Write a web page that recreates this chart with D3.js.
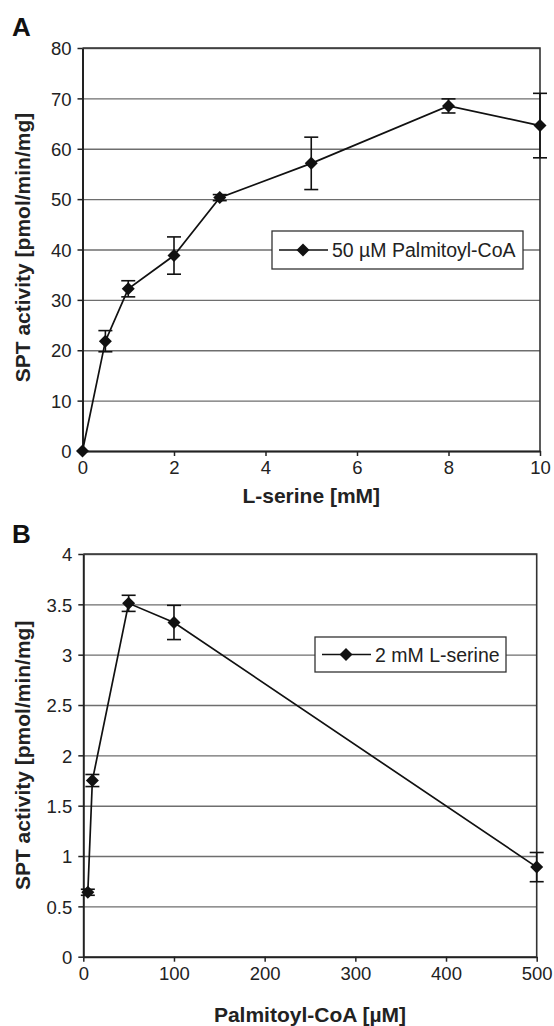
<!DOCTYPE html>
<html>
<head>
<meta charset="utf-8">
<script src="https://cdn.jsdelivr.net/npm/d3@7"></script>
<style>
  body { margin: 0; background: #fff; }
  svg { display: block; font-family: "Liberation Sans", Arial, sans-serif; }
</style>
</head>
<body>
<div id="vis"></div>
<script>
// panel A: activity vs L-serine (50 µM palmitoyl-CoA)
const serineConc = [0, 0.5, 1, 2, 3, 5, 8, 10];
const serineActivity = [0, 21.8, 32.2, 38.8, 50.3, 57.1, 68.5, 64.6];
const serineErr = [0, 2.1, 1.6, 3.7, 0.6, 5.2, 1.4, 6.4];
const serineXTicks = [0, 2, 4, 6, 8, 10];
const serineYTicks = [0, 10, 20, 30, 40, 50, 60, 70, 80];

// panel B: activity vs palmitoyl-CoA (2 mM L-serine)
const palmConc = [5, 10, 50, 100, 500];
const palmActivity = [0.64, 1.75, 3.51, 3.32, 0.89];
const palmErr = [0.03, 0.06, 0.08, 0.17, 0.145];
const palmXTicks = [0, 100, 200, 300, 400, 500];
const palmYTicks = [0, 0.5, 1, 1.5, 2, 2.5, 3, 3.5, 4];

const font = '"Liberation Sans", Arial, sans-serif';

const svg = d3.select('#vis')
    .append('svg')
    .attr('width', 554)
    .attr('height', 1026);

function drawPanel(p) {
    const g = svg.append('g');
    const x = d3.scaleLinear().domain(p.xDomain).range([p.left, p.right]);
    const y = d3.scaleLinear().domain(p.yDomain).range([p.bottom, p.top]);
    const w = p.right - p.left;
    const fmt = d3.format('~g');

    // gridlines
    g.append('g')
        .attr('transform', `translate(${p.left},0)`)
        .call(d3.axisLeft(y).tickValues(p.yTicks).tickSize(-w).tickFormat(''))
        .call(a => a.select('.domain').remove())
        .call(a => a.selectAll('line').attr('stroke', '#6e6e6e').attr('stroke-width', 1.4));

    // plot frame (top / right)
    g.append('path')
        .attr('d', `M${p.left},${p.top}H${p.right}V${p.bottom}`)
        .attr('fill', 'none')
        .attr('stroke', '#333')
        .attr('stroke-width', 1.6);

    // axes
    const yAxis = g.append('g')
        .attr('transform', `translate(${p.left},0)`)
        .call(d3.axisLeft(y).tickValues(p.yTicks).tickFormat(fmt).tickSize(5).tickPadding(6).tickSizeOuter(0));
    const xAxis = g.append('g')
        .attr('transform', `translate(0,${p.bottom})`)
        .call(d3.axisBottom(x).tickValues(p.xTicks).tickFormat(fmt).tickSize(5).tickPadding(5).tickSizeOuter(0));
    [yAxis, xAxis].forEach(a => {
        a.attr('font-family', font).attr('font-size', 18.5);
        a.select('.domain').attr('stroke', '#222').attr('stroke-width', 2);
        a.selectAll('.tick line').attr('stroke', '#222').attr('stroke-width', 1.5);
        a.selectAll('.tick text').attr('fill', '#222');
    });
    yAxis.selectAll('.tick text').attr('dy', '0.36em');

    const pts = p.xs.map((v, i) => ({ x: v, y: p.ys[i], e: p.errs[i] }));

    // connecting line
    g.append('path')
        .datum(pts)
        .attr('fill', 'none')
        .attr('stroke', '#111')
        .attr('stroke-width', 1.7)
        .attr('d', d3.line().x(d => x(d.x)).y(d => y(d.y)));

    // error bars
    const eb = g.selectAll('.err')
        .data(pts.filter(d => d.e > 0))
        .enter()
        .append('g')
        .attr('class', 'err')
        .attr('stroke', '#111')
        .attr('stroke-width', 1.6);
    eb.append('line')
        .attr('x1', d => x(d.x)).attr('x2', d => x(d.x))
        .attr('y1', d => y(d.y - d.e)).attr('y2', d => y(d.y + d.e));
    eb.append('line')
        .attr('x1', d => x(d.x) - 7).attr('x2', d => x(d.x) + 7)
        .attr('y1', d => y(d.y + d.e)).attr('y2', d => y(d.y + d.e));
    eb.append('line')
        .attr('x1', d => x(d.x) - 7).attr('x2', d => x(d.x) + 7)
        .attr('y1', d => y(d.y - d.e)).attr('y2', d => y(d.y - d.e));

    // diamond markers
    const diamond = 'M0,-6.5L6.5,0L0,6.5L-6.5,0Z';
    g.selectAll('.marker')
        .data(pts)
        .enter()
        .append('path')
        .attr('class', 'marker')
        .attr('transform', d => `translate(${x(d.x)},${y(d.y)})`)
        .attr('d', diamond)
        .attr('fill', '#111');

    // legend
    const lg = g.append('g').attr('transform', `translate(${p.legend.x},${p.legend.y})`);
    lg.append('rect')
        .attr('width', p.legend.w)
        .attr('height', p.legend.h)
        .attr('fill', '#fff')
        .attr('stroke', '#333')
        .attr('stroke-width', 1.3);
    const cy = p.legend.h / 2;
    lg.append('line')
        .attr('x1', 7).attr('x2', 56).attr('y1', cy).attr('y2', cy)
        .attr('stroke', '#111').attr('stroke-width', 1.7);
    lg.append('path')
        .attr('transform', `translate(31,${cy})`)
        .attr('d', diamond)
        .attr('fill', '#111');
    lg.append('text')
        .attr('x', 60)
        .attr('y', cy)
        .attr('dy', '0.36em')
        .attr('font-size', '19.5px')
        .attr('fill', '#222')
        .text(p.legend.label);

    // axis titles
    g.append('text')
        .attr('x', (p.left + p.right) / 2)
        .attr('y', p.xTitleY)
        .attr('text-anchor', 'middle')
        .attr('font-size', '21px')
        .attr('font-weight', 'bold')
        .attr('fill', '#222')
        .text(p.xTitle);
    g.append('text')
        .attr('transform', `translate(30,${(p.top + p.bottom) / 2 + p.yTitleShift}) rotate(-90)`)
        .attr('text-anchor', 'middle')
        .attr('font-size', '21px')
        .attr('font-weight', 'bold')
        .attr('fill', '#222')
        .text('SPT activity [pmol/min/mg]');

    // panel letter
    g.append('text')
        .attr('x', 12)
        .attr('y', p.letterY)
        .attr('font-size', '26px')
        .attr('font-weight', 'bold')
        .attr('fill', '#111')
        .text(p.letter);
}

drawPanel({
    letter: 'A', letterY: 36,
    left: 82.5, right: 540, top: 48, bottom: 451,
    xDomain: [0, 10], yDomain: [0, 80],
    xTicks: serineXTicks, yTicks: serineYTicks,
    xs: serineConc, ys: serineActivity, errs: serineErr,
    xTitle: 'L-serine [mM]', xTitleY: 503, yTitleShift: -2,
    legend: { x: 272, y: 231, w: 251, h: 38, label: '50 µM Palmitoyl-CoA' }
});

drawPanel({
    letter: 'B', letterY: 543,
    left: 83.3, right: 536.7, top: 554, bottom: 956.7,
    xDomain: [0, 500], yDomain: [0, 4],
    xTicks: palmXTicks, yTicks: palmYTicks,
    xs: palmConc, ys: palmActivity, errs: palmErr,
    xTitle: 'Palmitoyl-CoA [µM]', xTitleY: 1022, yTitleShift: 0,
    legend: { x: 315, y: 637, w: 191, h: 35, label: '2 mM L-serine' }
});
</script>
</body>
</html>
